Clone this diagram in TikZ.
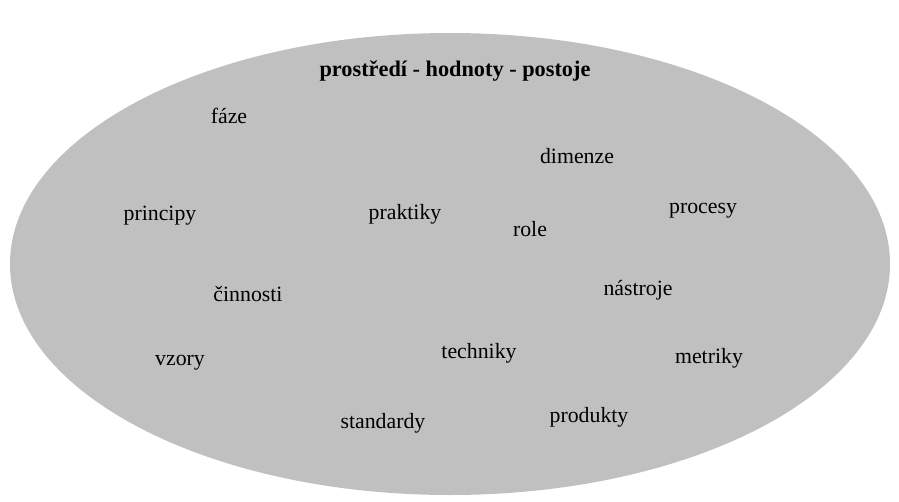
\documentclass[tikz,border=0pt]{standalone}
\usepackage{fontspec}
\setmainfont{Liberation Serif}
\definecolor{ellgray}{RGB}{192,192,192}
\begin{document}
\begin{tikzpicture}[x=1pt,y=-1pt,
  lbl/.style={inner sep=0pt, font=\fontsize{21.8}{24}\selectfont, text=black}]
\useasboundingbox (0,0) rectangle (899,501);
\fill[ellgray] (450,264) ellipse [x radius=440, y radius=231];
\node[lbl, font=\fontsize{22.3}{24}\selectfont\bfseries] (title) at (455,71) {prostředí - hodnoty - postoje};
\node[lbl] (faze) at (229,116) {fáze};
\node[lbl] (dimenze) at (577,156) {dimenze};
\node[lbl] (principy) at (160,216) {principy};
\node[lbl] (praktiky) at (405,214) {praktiky};
\node[lbl] (role) at (530,229) {role};
\node[lbl] (procesy) at (703,211) {procesy};
\node[lbl] (cinnosti) at (248,294) {činnosti};
\node[lbl] (nastroje) at (638,290) {nástroje};
\node[lbl] (vzory) at (180,363) {vzory};
\node[lbl] (techniky) at (479,353) {techniky};
\node[lbl] (metriky) at (709,358) {metriky};
\node[lbl] (standardy) at (383,423) {standardy};
\node[lbl] (produkty) at (589,417) {produkty};
\end{tikzpicture}
\end{document}
